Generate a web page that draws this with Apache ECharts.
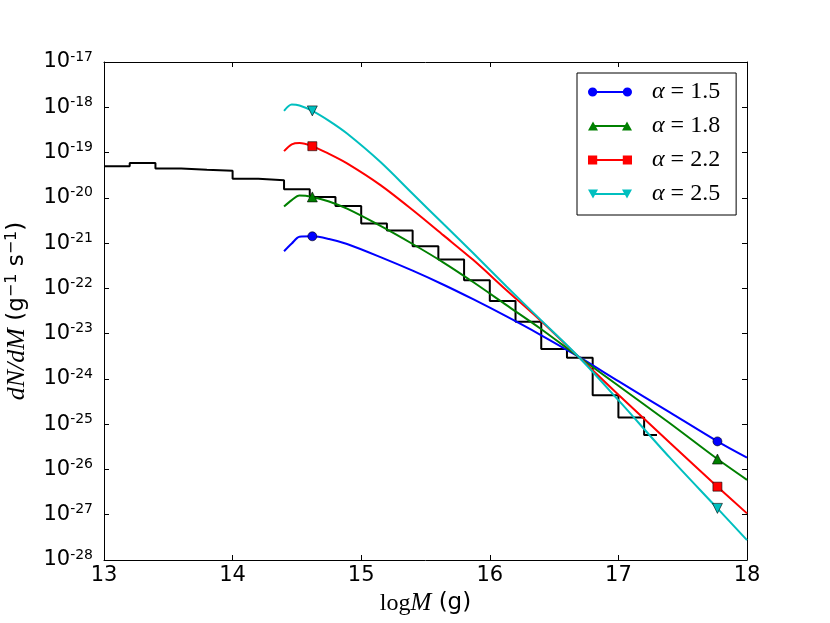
<!DOCTYPE html>
<html>
<head>
<meta charset="utf-8">
<script src="https://cdn.jsdelivr.net/npm/echarts@6/dist/echarts.min.js"></script>
<style>
  html, body { margin: 0; padding: 0; background: #fff; }
  #main { width: 830px; height: 623px; }
</style>
</head>
<body>
<div id="main"></div>
<script>
// histogram: bin edges (log M) and log10(dN/dM) per bin
const histEdges = [13.0, 13.2, 13.4, 13.6, 13.8, 14.0, 14.2, 14.4, 14.6, 14.8, 15.0, 15.2,
  15.4, 15.6, 15.8, 16.0, 16.2, 16.4, 16.6, 16.8, 17.0, 17.2, 17.3]
const histLog = [-19.30, -19.23, -19.35, -19.38, -19.40, -19.58, -19.61, -19.81, -19.98, -20.18,
  -20.57, -20.72, -21.07, -21.36, -21.82, -22.28, -22.74, -23.34, -23.53, -24.36, -24.85, -25.24]

// model curves, log10(dN/dM) at curveX
const curveX = [14.4, 14.46, 14.52, 14.62, 14.75, 14.89, 15.15, 15.4, 15.64, 15.87, 16.13, 16.39, 16.69, 17.0, 17.4, 17.77, 18.0]
const markerIdx = [3, 15]
const alpha15 = [-21.18, -21.01, -20.86, -20.85, -20.91, -21.02, -21.31, -21.61, -21.92, -22.24, -22.62, -23.02, -23.51, -24.05, -24.74, -25.38, -25.74]
const alpha18 = [-20.19, -20.05, -19.95, -19.98, -20.08, -20.24, -20.62, -21.02, -21.43, -21.86, -22.37, -22.88, -23.51, -24.15, -24.98, -25.77, -26.23]
const alpha22 = [-18.97, -18.82, -18.79, -18.86, -19.03, -19.24, -19.72, -20.27, -20.83, -21.37, -22.04, -22.70, -23.51, -24.35, -25.41, -26.38, -26.97]
const alpha25 = [-18.08, -17.94, -17.96, -18.08, -18.30, -18.58, -19.21, -19.91, -20.58, -21.22, -21.96, -22.68, -23.51, -24.47, -25.74, -26.86, -27.56]

const seriesNames = ['α = 1.5', 'α = 1.8', 'α = 2.2', 'α = 2.5']
const xTicks = [13, 14, 15, 16, 17, 18]
const yTicks = [-28, -17]

// legend icons: line with a marker at each end
const icons = [
  'path://M0.5,5a4.5,4.5 0 1,1 9,0a4.5,4.5 0 1,1 -9,0zM5,4.1h34v1.8h-34zM34.5,5a4.5,4.5 0 1,1 9,0a4.5,4.5 0 1,1 -9,0z',
  'path://M0,9.5L5,0.5L10,9.5zM5,4.1h34v1.8h-34zM34,9.5L39,0.5L44,9.5z',
  'path://M0.5,0.5h9v9h-9zM5,4.1h34v1.8h-34zM34.5,0.5h9v9h-9z',
  'path://M0,0.5h10L5,9.5zM5,4.1h34v1.8h-34zM34,0.5h10L39,9.5z'
]

const curves = [
  { name: seriesNames[0], values: alpha15, color: '#0000ff', symbol: 'circle', size: 9 },
  { name: seriesNames[1], values: alpha18, color: '#008000', symbol: 'triangle', size: 10 },
  { name: seriesNames[2], values: alpha22, color: '#ff0000', symbol: 'rect', size: 9 },
  { name: seriesNames[3], values: alpha25, color: '#00bfbf', symbol: 'path://M0,0L10,0L5,9z', size: 10 }
]

const histData = histLog.map((v, i) => [histEdges[i], v])
histData.push([histEdges[histEdges.length - 1], histLog[histLog.length - 1]])

const sans = 'DejaVu Sans'
const serif = 'Liberation Serif'

const tickStyle = { show: true, inside: true, length: 5, lineStyle: { color: '#000', width: 1 } }
const lineStyleAxis = { show: true, lineStyle: { color: '#000', width: 1 } }

const chart = echarts.init(document.getElementById('main'), null, { renderer: 'canvas' })

chart.setOption({
  animation: false,
  backgroundColor: '#fff',
  grid: { left: 104, right: 83, top: 62, bottom: 63, containLabel: false, outerBoundsMode: 'none' },
  legend: {
    orient: 'vertical',
    left: 577,
    top: 73,
    itemWidth: 44,
    itemHeight: 10,
    itemGap: 10,
    padding: [7, 16, 9, 11],
    borderColor: '#000',
    borderWidth: 1,
    borderRadius: 0,
    backgroundColor: '#fff',
    data: curves.map((c, i) => ({ name: c.name, icon: icons[i] })),
    formatter: name => '{a|α}' + name.slice(1),
    textStyle: {
      fontFamily: serif,
      fontSize: 24,
      lineHeight: 24,
      color: '#000',
      padding: [0, 0, 0, 15],
      rich: {
        a: { fontFamily: serif, fontStyle: 'italic', fontSize: 24, lineHeight: 24, color: '#000' }
      }
    }
  },
  xAxis: [{
    type: 'value',
    min: xTicks[0],
    max: xTicks[xTicks.length - 1],
    interval: 1,
    position: 'bottom',
    axisLine: lineStyleAxis,
    axisTick: tickStyle,
    splitLine: { show: false },
    axisLabel: { fontFamily: sans, fontSize: 21, color: '#000', margin: 5 },
    name: '{rm|log}{it|M} (g)',
    nameLocation: 'middle',
    nameGap: 31,
    nameTextStyle: {
      fontFamily: sans,
      fontSize: 23,
      color: '#000',
      rich: {
        rm: { fontFamily: serif, fontSize: 24, color: '#000' },
        it: { fontFamily: serif, fontStyle: 'italic', fontSize: 25, color: '#000' }
      }
    }
  }, {
    type: 'value',
    min: xTicks[0],
    max: xTicks[xTicks.length - 1],
    interval: 1,
    position: 'top',
    axisLine: lineStyleAxis,
    axisTick: tickStyle,
    splitLine: { show: false },
    axisLabel: { show: false }
  }],
  yAxis: [{
    type: 'value',
    min: yTicks[0],
    max: yTicks[1],
    interval: 1,
    position: 'left',
    axisLine: lineStyleAxis,
    axisTick: tickStyle,
    splitLine: { show: false },
    axisLabel: {
      margin: 11,
      formatter: v => '{b|10}{s|' + v + '}',
      rich: {
        b: { fontFamily: sans, fontSize: 21, color: '#000', lineHeight: 24 },
        s: { fontFamily: sans, fontSize: 14, color: '#000', verticalAlign: 'top', lineHeight: 24, padding: [0, 0, 9, 0] }
      }
    },
    name: '{i|dN/dM} (g{s|−1} s{s|−1})',
    nameLocation: 'middle',
    nameRotate: 90,
    nameGap: 74,
    nameTextStyle: {
      fontFamily: sans,
      fontSize: 23,
      color: '#000',
      lineHeight: 26,
      rich: {
        i: { fontFamily: serif, fontStyle: 'italic', fontSize: 26, color: '#000', lineHeight: 26 },
        s: { fontFamily: sans, fontSize: 16, color: '#000', verticalAlign: 'top', lineHeight: 26, padding: [0, 0, 6, 0] }
      }
    }
  }, {
    type: 'value',
    min: yTicks[0],
    max: yTicks[1],
    interval: 1,
    position: 'right',
    axisLine: lineStyleAxis,
    axisTick: tickStyle,
    splitLine: { show: false },
    axisLabel: { show: false }
  }],
  series: [{
    name: 'hist',
    type: 'line',
    step: 'end',
    data: histData,
    symbol: 'none',
    lineStyle: { color: '#000', width: 2 },
    z: 2
  }].concat(curves.map(c => ({
    name: c.name,
    type: 'line',
    smooth: 0.3,
    symbol: c.symbol,
    symbolSize: 0,
    data: curveX.map((x, i) => markerIdx.indexOf(i) >= 0
      ? { value: [x, c.values[i]], symbolSize: c.size, itemStyle: { borderColor: '#000', borderWidth: 0.6 } }
      : [x, c.values[i]]),
    lineStyle: { color: c.color, width: 2 },
    itemStyle: { color: c.color, borderWidth: 0 },
    z: 3
  })))
})
</script>
</body>
</html>
